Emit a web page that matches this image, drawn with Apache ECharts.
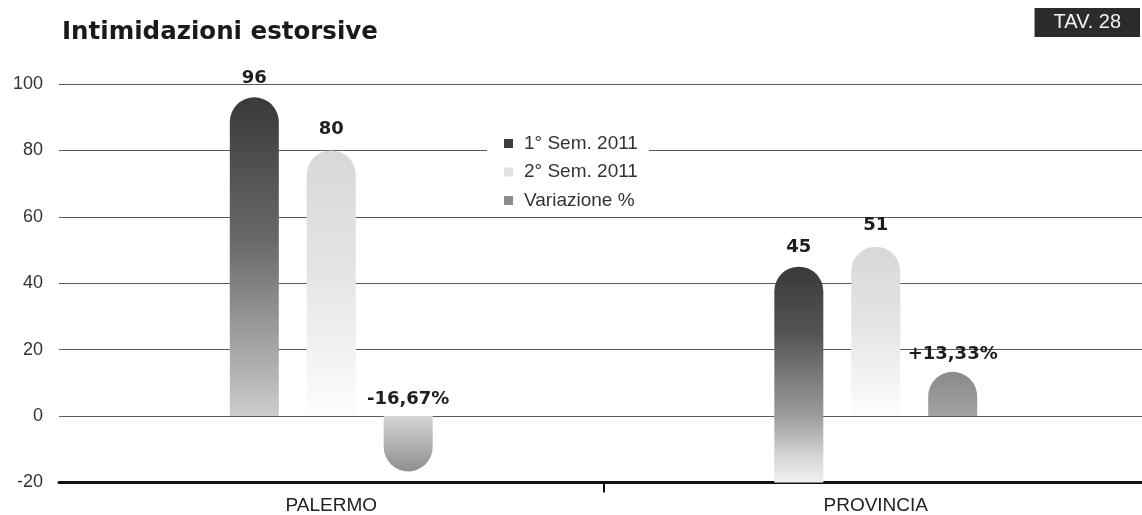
<!DOCTYPE html>
<html>
<head>
<meta charset="utf-8">
<script src="https://cdn.jsdelivr.net/npm/echarts@6/dist/echarts.min.js"></script>
<style>
html,body{margin:0;padding:0;background:#fff;}
#chart{width:1142px;height:515px;}
</style>
</head>
<body>
<div id="chart"></div>
<script>
// ---- data ----
var categories = ['PALERMO', 'PROVINCIA'];
var seriesNames = ['1° Sem. 2011', '2° Sem. 2011', 'Variazione %'];
var sem1 = [96, 45];
var sem2 = [80, 51];
var variazione = [-16.67, 13.33];
// faded extension of the 1° Sem. bar below zero, as drawn in the picture
var sem1Fade = [null, -20];
var yTicks = { min: -20, max: 100, step: 20 };
// helper slots for the single separator tick between the two categories
var separatorSlots = ['', '|', ''];

function grad(stops) {
  return new echarts.graphic.LinearGradient(0, 0, 0, 1,
    stops.map(function (s) { return { offset: s[0], color: s[1] }; }));
}
var R = 24.5;
var labelFont = { fontFamily: 'DejaVu Sans', fontWeight: 'bold', fontSize: 18, color: '#1e1e1e' };

var chart = echarts.init(document.getElementById('chart'));
chart.setOption({
  backgroundColor: '#ffffff',
  animation: false,
  title: [
    { text: 'Intimidazioni estorsive', left: 62, top: 20, padding: 0,
      textStyle: { fontFamily: 'DejaVu Sans', fontWeight: 'bold', fontSize: 24.5, color: '#1a1a1a' } },
    { text: 'TAV. 28', right: 2, top: 8, padding: [4, 19, 4, 19], backgroundColor: '#2b2b2b',
      textStyle: { fontFamily: 'Liberation Sans', fontWeight: 'normal', fontSize: 20, lineHeight: 21, color: '#f2f2f2' } }
  ],
  legend: {
    orient: 'vertical', left: 487, top: 128,
    padding: [6, 11, 6, 17], backgroundColor: '#ffffff',
    itemWidth: 9, itemHeight: 9, itemGap: 9.5, icon: 'rect',
    textStyle: { fontFamily: 'Liberation Sans', fontSize: 19, lineHeight: 18, color: '#333', padding: [0, 0, 0, 6] },
    data: [
      { name: seriesNames[0], itemStyle: { color: '#3d3d3d' } },
      { name: seriesNames[1], itemStyle: { color: '#e2e2e2' } },
      { name: seriesNames[2], itemStyle: { color: '#8c8c8c' } }
    ]
  },
  grid: { left: 59, width: 1089, top: 84, bottom: 32.5, containLabel: false, outerBoundsMode: 'none' },
  xAxis: [
    {
      type: 'category', data: categories,
      axisLine: { show: true, onZero: false, lineStyle: { color: '#111', width: 3 } },
      axisTick: { show: false },
      axisLabel: { fontFamily: 'Liberation Sans', fontSize: 19, color: '#222', margin: 14 }
    },
    {
      type: 'category', data: separatorSlots, boundaryGap: false, position: 'bottom',
      axisLine: { show: false, onZero: false },
      axisLabel: { show: false },
      splitLine: { show: false },
      axisTick: { show: true, length: 10, lineStyle: { color: '#111', width: 2 },
        interval: function (idx) { return idx === 1; } }
    }
  ],
  yAxis: {
    type: 'value', min: yTicks.min, max: yTicks.max, interval: yTicks.step,
    axisLine: { show: false }, axisTick: { show: false },
    axisLabel: { fontFamily: 'Liberation Sans', fontSize: 18, color: '#333', margin: 16 },
    splitLine: { lineStyle: { color: '#5a5a5a', width: 1 } }
  },
  series: [
    {
      name: seriesNames[0], type: 'bar', stack: 's1', barWidth: 49, barGap: '57%',
      data: sem1.map(function (v, i) {
        return { value: v, itemStyle: {
          borderRadius: [R, R, 0, 0],
          color: i === 0 ? grad([[0, '#393939'], [0.45, '#696969'], [1, '#cccccc']])
                         : grad([[0, '#393939'], [0.45, '#555555'], [1, '#9c9c9c']]) } };
      }),
      label: { show: true, position: 'top', distance: 10, formatter: '{c}', ...labelFont }
    },
    {
      name: 'sem1fade', type: 'bar', stack: 's1', barWidth: 49, silent: true,
      data: sem1Fade,
      itemStyle: { color: grad([[0, '#9c9c9c'], [0.6, '#d4d4d4'], [1, '#f2f2f2']]) },
      label: { show: false }
    },
    {
      name: seriesNames[1], type: 'bar', barWidth: 49, barGap: '57%',
      data: sem2.map(function (v) {
        return { value: v, itemStyle: { borderRadius: [R, R, 0, 0],
          color: grad([[0, '#d8d8d8'], [0.45, '#e4e4e4'], [1, '#fdfdfd']]) } };
      }),
      label: { show: true, position: 'top', distance: 12, formatter: '{c}', ...labelFont }
    },
    {
      name: seriesNames[2], type: 'bar', barWidth: 49, barGap: '57%',
      data: variazione.map(function (v) {
        return { value: v, itemStyle: v < 0
          ? { borderRadius: [0, 0, R, R], color: grad([[0, '#d6d6d6'], [1, '#8e8e8e']]) }
          : { borderRadius: [R, R, 0, 0], color: grad([[0, '#8a8a8a'], [1, '#a2a2a2']]) } };
      }),
      label: { show: true, position: 'top', distance: 8, ...labelFont,
        formatter: function (p) {
          var v = p.value;
          return (v > 0 ? '+' : '') + v.toFixed(2).replace('.', ',') + '%';
        } }
    }
  ]
});
</script>
</body>
</html>
